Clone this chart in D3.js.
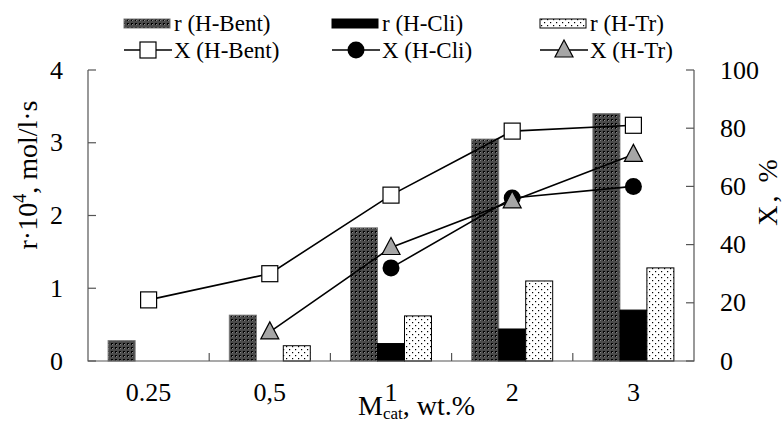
<!DOCTYPE html>
<html>
<head>
<meta charset="utf-8">
<script src="https://cdn.jsdelivr.net/npm/d3@7"></script>
<style>
  html, body { margin: 0; padding: 0; background: #fff; }
  svg { display: block; font-family: "Liberation Serif", "Times New Roman", serif; }
</style>
</head>
<body>
<svg id="chart" width="783" height="423"></svg>
<script>
// Catalyst loading categories (x axis)
const categories = ["0.25", "0,5", "1", "2", "3"];

// Reaction rate r·10^4, mol/l·s (left axis, bars)
const rBent = [0.28, 0.63, 1.83, 3.05, 3.40];
const rCli  = [0, 0, 0.24, 0.44, 0.70];
const rTr   = [0, 0.21, 0.62, 1.10, 1.28];

// Conversion X, % (right axis, lines); null where not measured
const xBent = [21, 30, 57, 79, 81];
const xCli  = [null, null, 32, 56, 60];
const xTr   = [null, 10, 39, 55, 71];

const leftTicks = [0, 1, 2, 3, 4];
const rightTicks = [0, 20, 40, 60, 80, 100];

const svg = d3.select("#chart");
const margin = { left: 88, right: 694, top: 70, bottom: 361 };
const axisColor = "#555";

// Fill patterns for the bars
const defs = svg.append("defs");
const pBent = defs.append("pattern").attr("id", "pBent")
  .attr("patternUnits", "userSpaceOnUse").attr("width", 4).attr("height", 4);
pBent.append("rect").attr("width", 4).attr("height", 4).attr("fill", "#000");
pBent.append("circle").attr("cx", 2).attr("cy", 2).attr("r", 1.3)
  .attr("fill", "none").attr("stroke", "#aaa").attr("stroke-width", 0.7);
pBent.append("rect").attr("x", 0).attr("y", 0).attr("width", 1).attr("height", 1).attr("fill", "#888");

const pTr = defs.append("pattern").attr("id", "pTr")
  .attr("patternUnits", "userSpaceOnUse").attr("width", 6).attr("height", 6);
pTr.append("rect").attr("width", 6).attr("height", 6).attr("fill", "#fff");
pTr.append("rect").attr("x", 1).attr("y", 1).attr("width", 1.2).attr("height", 1.2).attr("fill", "#000");
pTr.append("rect").attr("x", 4).attr("y", 4).attr("width", 1.2).attr("height", 1.2).attr("fill", "#000");

const x = d3.scaleBand().domain(categories).range([margin.left, margin.right]).padding(0);
const yL = d3.scaleLinear().domain([0, 4]).range([margin.bottom, margin.top]);
const yR = d3.scaleLinear().domain([0, 100]).range([margin.bottom, margin.top]);

const groupW = x.bandwidth() * 0.668;
const xs = d3.scaleBand().domain(["bent", "cli", "tr"])
  .range([(x.bandwidth() - groupW) / 2, (x.bandwidth() + groupW) / 2]).padding(0);

const barSeries = [
  { key: "bent", values: rBent, fill: "url(#pBent)", stroke: "#777" },
  { key: "cli",  values: rCli,  fill: "#000",        stroke: "#000" },
  { key: "tr",   values: rTr,   fill: "url(#pTr)",   stroke: "#000" }
];

// Bars
barSeries.forEach(s => {
  svg.append("g").selectAll("rect")
    .data(categories.map((c, i) => ({ c, v: s.values[i] })).filter(d => d.v > 0))
    .join("rect")
    .attr("x", d => x(d.c) + xs(s.key))
    .attr("y", d => yL(d.v))
    .attr("width", xs.bandwidth())
    .attr("height", d => yL(0) - yL(d.v))
    .attr("fill", s.fill)
    .attr("stroke", s.stroke)
    .attr("stroke-width", 1);
});

// Axes
const axes = svg.append("g").attr("stroke", axisColor).attr("stroke-width", 1.2).attr("fill", "none");
axes.append("path").attr("d", `M${margin.left},${margin.top}V${margin.bottom}H${margin.right}V${margin.top}`);
leftTicks.forEach(t => axes.append("line")
  .attr("x1", margin.left).attr("x2", margin.left + 8).attr("y1", yL(t)).attr("y2", yL(t)));
rightTicks.forEach(t => axes.append("line")
  .attr("x1", margin.right).attr("x2", margin.right - 8).attr("y1", yR(t)).attr("y2", yR(t)));
categories.slice(1).forEach(c => axes.append("line")
  .attr("x1", x(c)).attr("x2", x(c)).attr("y1", margin.bottom).attr("y2", margin.bottom - 8));

// Tick labels
const fs = 26;
svg.append("g").selectAll("text").data(leftTicks).join("text")
  .attr("x", 63).attr("y", d => yL(d)).attr("dy", "0.33em")
  .attr("text-anchor", "end").attr("font-size", fs).text(d => d);
svg.append("g").selectAll("text").data(rightTicks).join("text")
  .attr("x", 720).attr("y", d => yR(d)).attr("dy", "0.33em")
  .attr("text-anchor", "start").attr("font-size", fs).text(d => d);
svg.append("g").selectAll("text").data(categories).join("text")
  .attr("x", d => x(d) + x.bandwidth() / 2).attr("y", 401)
  .attr("text-anchor", "middle").attr("font-size", fs).text(d => d);

// Axis titles
const tfs = 28;
const tl = svg.append("text").attr("transform", "translate(37,175) rotate(-90)")
  .attr("text-anchor", "middle").attr("font-size", tfs);
tl.append("tspan").text("r·10");
tl.append("tspan").attr("font-size", 18).attr("dy", -11).text("4");
tl.append("tspan").attr("dy", 11).text(", mol/l·s");

svg.append("text").attr("transform", "translate(777,191) rotate(-90)")
  .attr("text-anchor", "middle").attr("font-size", tfs).attr("letter-spacing", 3).text("X, %");

const tx = svg.append("text").attr("x", 358).attr("y", 415).attr("font-size", tfs);
tx.append("tspan").text("M");
tx.append("tspan").attr("font-size", 17).attr("dy", 4).text("cat");
tx.append("tspan").attr("dy", -4).text(", wt.%");

// Conversion lines and markers
const lineSeries = [
  { values: xBent, marker: "square" },
  { values: xCli,  marker: "circle" },
  { values: xTr,   marker: "triangle" }
];
const line = d3.line().defined(d => d.v != null)
  .x(d => x(d.c) + x.bandwidth() / 2).y(d => yR(d.v));

function drawMarker(g, type, cx, cy) {
  if (type === "square") {
    g.append("rect").attr("x", cx - 8).attr("y", cy - 8).attr("width", 16).attr("height", 16)
      .attr("fill", "#fff").attr("stroke", "#000").attr("stroke-width", 1.2);
  } else if (type === "circle") {
    g.append("circle").attr("cx", cx).attr("cy", cy).attr("r", 8.5).attr("fill", "#000");
  } else {
    g.append("path").attr("d", `M${cx},${cy - 10}L${cx + 9},${cy + 7}L${cx - 9},${cy + 7}Z`)
      .attr("fill", "#a6a6a6").attr("stroke", "#000").attr("stroke-width", 1.2);
  }
}

lineSeries.forEach(s => {
  const pts = categories.map((c, i) => ({ c, v: s.values[i] }));
  svg.append("path").datum(pts).attr("d", line)
    .attr("fill", "none").attr("stroke", "#000").attr("stroke-width", 1.6);
});
lineSeries.forEach(s => {
  const g = svg.append("g");
  categories.forEach((c, i) => {
    if (s.values[i] != null) drawMarker(g, s.marker, x(c) + x.bandwidth() / 2, yR(s.values[i]));
  });
});

// Legend
const legendItems = [
  { x: 124, label: "r (H-Bent)", fill: "url(#pBent)", stroke: "#777", marker: "square", xl: "X (H-Bent)" },
  { x: 332, label: "r (H-Cli)",  fill: "#000",        stroke: "#000", marker: "circle", xl: "X (H-Cli)" },
  { x: 540, label: "r (H-Tr)",   fill: "url(#pTr)",   stroke: "#000", marker: "triangle", xl: "X (H-Tr)" }
];
const lg = svg.append("g");
legendItems.forEach(it => {
  lg.append("rect").attr("x", it.x).attr("y", 19).attr("width", 46).attr("height", 9)
    .attr("fill", it.fill).attr("stroke", it.stroke).attr("stroke-width", 1);
  lg.append("text").attr("x", it.x + 50).attr("y", 31).attr("font-size", 23).text(it.label);
  lg.append("line").attr("x1", it.x).attr("x2", it.x + 48).attr("y1", 50).attr("y2", 50)
    .attr("stroke", "#000").attr("stroke-width", 1.6);
  drawMarker(lg, it.marker, it.x + 24, 50);
  lg.append("text").attr("x", it.x + 50).attr("y", 58).attr("font-size", 23).text(it.xl);
});
</script>
</body>
</html>
